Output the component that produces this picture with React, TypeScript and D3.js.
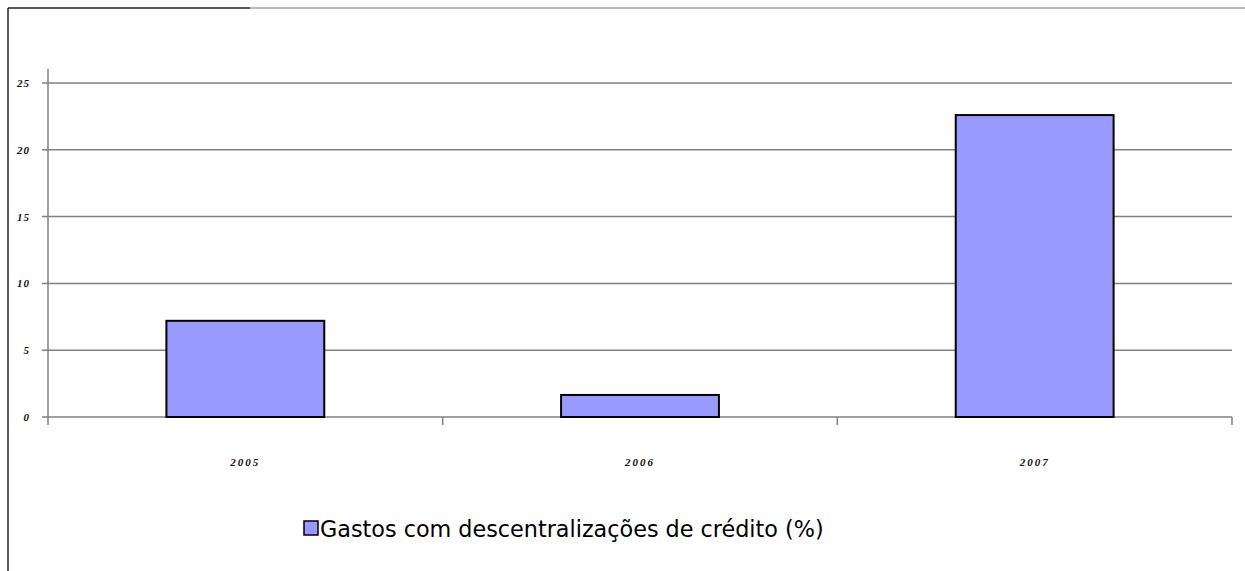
import { useEffect, useRef } from "react";
import * as d3 from "d3";

const W = 1245;
const H = 571;

const YEARS = ["2005", "2006", "2007"];
const VALUES = [7.2, 1.65, 22.6];
const Y_TICKS = [0, 5, 10, 15, 20, 25];
const LEGEND_LABEL = "Gastos com descentralizações de crédito (%)";

const PLOT = { left: 48, right: 1232, top: 83, bottom: 417 };
const BAR_FILL = "#9999ff";
const GRID = "#808080";
const TICK_FONT = '"Liberation Serif", "DejaVu Serif", serif';

export default function App() {
  const svgRef = useRef<SVGSVGElement | null>(null);

  useEffect(() => {
    const svg = d3.select(svgRef.current);
    svg.selectAll("*").remove();

    // outer frame, only top and left edges show
    svg
      .append("line")
      .attr("x1", 8)
      .attr("y1", 8)
      .attr("x2", 250)
      .attr("y2", 8)
      .attr("stroke", "#222")
      .attr("stroke-width", 1.5);
    svg
      .append("line")
      .attr("x1", 250)
      .attr("y1", 8)
      .attr("x2", W)
      .attr("y2", 8)
      .attr("stroke", "#777")
      .attr("stroke-width", 1);
    svg
      .append("line")
      .attr("x1", 8)
      .attr("y1", 8)
      .attr("x2", 8)
      .attr("y2", H)
      .attr("stroke", "#222")
      .attr("stroke-width", 1.5);

    const x = d3
      .scaleBand<string>()
      .domain(YEARS)
      .range([PLOT.left, PLOT.right])
      .paddingInner(0)
      .paddingOuter(0);
    const y = d3.scaleLinear().domain([0, 25]).range([PLOT.bottom, PLOT.top]);

    // gridlines + y ticks
    const yAxis = svg.append("g");
    yAxis
      .selectAll("line.grid")
      .data(Y_TICKS)
      .join("line")
      .attr("x1", PLOT.left - 6)
      .attr("x2", PLOT.right)
      .attr("y1", (d) => y(d))
      .attr("y2", (d) => y(d))
      .attr("stroke", GRID)
      .attr("stroke-width", 1.5);
    yAxis
      .selectAll("text")
      .data(Y_TICKS)
      .join("text")
      .attr("x", 30)
      .attr("y", (d) => y(d) + 4)
      .attr("text-anchor", "end")
      .attr("font-family", TICK_FONT)
      .attr("font-style", "italic")
      .attr("font-weight", "bold")
      .attr("font-size", 11)
      .attr("letter-spacing", 1)
      .attr("fill", "#111")
      .text((d) => d);

    // y axis line
    svg
      .append("line")
      .attr("x1", PLOT.left)
      .attr("x2", PLOT.left)
      .attr("y1", 69)
      .attr("y2", PLOT.bottom + 8)
      .attr("stroke", GRID)
      .attr("stroke-width", 1.5);

    // category tick marks
    const bounds = [...YEARS.map((c) => x(c) as number), PLOT.right];
    svg
      .selectAll("line.xtick")
      .data(bounds.slice(1))
      .join("line")
      .attr("x1", (d) => d)
      .attr("x2", (d) => d)
      .attr("y1", PLOT.bottom)
      .attr("y2", PLOT.bottom + 8)
      .attr("stroke", GRID)
      .attr("stroke-width", 1.5);

    // bars
    const barW = x.bandwidth() * 0.4;
    svg
      .selectAll("rect.bar")
      .data(YEARS)
      .join("rect")
      .attr("x", (d) => (x(d) as number) + x.bandwidth() / 2 - barW / 2)
      .attr("width", barW)
      .attr("y", (_, i) => y(VALUES[i]))
      .attr("height", (_, i) => y(0) - y(VALUES[i]))
      .attr("fill", BAR_FILL)
      .attr("stroke", "#000")
      .attr("stroke-width", 2);

    // x labels
    svg
      .selectAll("text.xlab")
      .data(YEARS)
      .join("text")
      .attr("x", (d) => (x(d) as number) + x.bandwidth() / 2)
      .attr("y", 466)
      .attr("text-anchor", "middle")
      .attr("font-family", TICK_FONT)
      .attr("font-style", "italic")
      .attr("font-weight", "bold")
      .attr("font-size", 11)
      .attr("letter-spacing", 2)
      .attr("fill", "#111")
      .text((d) => d);

    // legend
    const legend = svg.append("g").attr("transform", "translate(304,521)");
    legend
      .append("rect")
      .attr("width", 14)
      .attr("height", 14)
      .attr("fill", BAR_FILL)
      .attr("stroke", "#000")
      .attr("stroke-width", 1.5);
    legend
      .append("text")
      .attr("x", 16)
      .attr("y", 16)
      .attr("font-family", '"DejaVu Sans", Verdana, sans-serif')
      .attr("font-size", 22.3)
      .attr("fill", "#000")
      .text(LEGEND_LABEL);
  }, []);

  return (
    <svg
      ref={svgRef}
      width={W}
      height={H}
      style={{ position: "absolute", left: 0, top: 0, display: "block", background: "#fff" }}
    />
  );
}
